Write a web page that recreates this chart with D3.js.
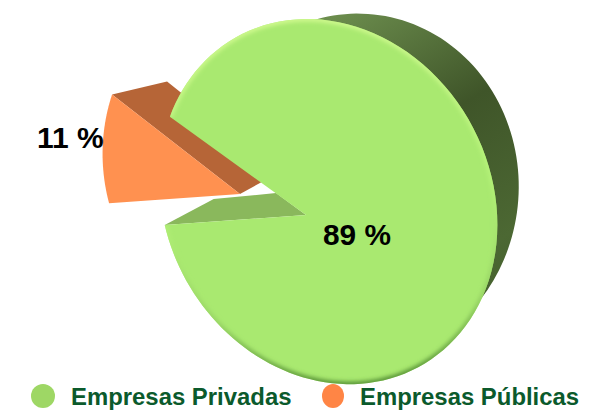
<!DOCTYPE html>
<html>
<head>
<meta charset="utf-8">
<script src="https://d3js.org/d3.v7.min.js"></script>
<style>
  html, body { margin: 0; padding: 0; background: #fff; }
  svg { display: block; }
  text { font-family: "Liberation Sans", Arial, sans-serif; font-weight: bold; }
</style>
</head>
<body>
<div id="chart-area"></div>
<script>
var categories = ["Empresas Privadas", "Empresas Públicas"];
var values = [89, 11];
var labels = ["89 %", "11 %"];
var faceColors = ["#a9e970", "#ff9150"];
var legendColors = ["#9ed765", "#ff8545"];

var width = 591,
    height = 412;

var svg = d3.select("#chart-area").append("svg")
    .attr("width", width)
    .attr("height", height);

var defs = svg.append("defs");

var wallGrad = defs.append("linearGradient").attr("id", "wall")
    .attr("gradientUnits", "userSpaceOnUse")
    .attr("x1", 320).attr("y1", 10).attr("x2", 520).attr("y2", 340);
wallGrad.append("stop").attr("offset", "0").attr("stop-color", "#6f9150");
wallGrad.append("stop").attr("offset", "0.4").attr("stop-color", "#3f5529");
wallGrad.append("stop").attr("offset", "0.75").attr("stop-color", "#4c6833");
wallGrad.append("stop").attr("offset", "1").attr("stop-color", "#3f5a28");

var rimGrad = defs.append("linearGradient").attr("id", "rim")
    .attr("gradientUnits", "userSpaceOnUse")
    .attr("x1", 300).attr("y1", 20).attr("x2", 340).attr("y2", 385);
rimGrad.append("stop").attr("offset", "0").attr("stop-color", "#d4fb92");
rimGrad.append("stop").attr("offset", "0.5").attr("stop-color", "#b4f278");
rimGrad.append("stop").attr("offset", "0.8").attr("stop-color", "#96d264");
rimGrad.append("stop").attr("offset", "1").attr("stop-color", "#4f8a30");

defs.append("filter").attr("id", "soft")
    .append("feGaussianBlur").attr("stdDeviation", 2);

// i) PIE ANGLES, green starts at upper edge of the notch
var pie = d3.pie().sort(null).startAngle(307 * Math.PI / 180).endAngle(667 * Math.PI / 180);
var slices = pie(values);

// ii) PROJECTION: unit disc to screen, apex stays fixed, rim is a perspective ellipse
function projector(o) {
  return function(angle, r) {
    var u = Math.sin(angle) * r,
        v = -Math.cos(angle) * r;
    var w = 1 + o.p * u + o.q * v;
    return [o.cx + o.s * (o.a * u + o.b * v) / w,
            o.cy + o.s * (o.c * u + o.d * v) / w];
  };
}

var front = projector({cx: 306, cy: 215, s: 172, a: 0.95, b: 0.15, c: -0.02, d: 1.045, p: -0.144, q: 0.07});
var explode = projector({cx: 240, cy: 194, s: 154, a: 0.95, b: 0.05, c: -0.02, d: 1.045, p: -0.104, q: 0.222});
var back = projector({cx: 338, cy: 206, s: 172, a: 0.93, b: 0, c: 0, d: 1, p: -0.11, q: 0.1});

var line = d3.line();

function sector(proj, start, end) {
  var pts = [proj(0, 0)];
  d3.range(0, 121).forEach(function(i) {
    pts.push(proj(start + (end - start) * i / 120, 1));
  });
  return line(pts) + "Z";
}

function rimPath(proj, start, end) {
  return line(d3.range(0, 121).map(function(i) {
    return proj(start + (end - start) * i / 120, 1);
  }));
}

function wall(a, b, c, d) {
  return line([a, b, c, d]) + "Z";
}

var green = slices[0],
    orange = slices[1];

// iii) ORANGE SLICE, pulled out to the left
var orangeUpper = explode(orange.endAngle, 1);
svg.append("path")
    .attr("d", wall(explode(0, 0), orangeUpper,
      [orangeUpper[0] + 55, orangeUpper[1] - 13],
      [explode(0, 0)[0] + 40, explode(0, 0)[1] - 22]))
    .attr("fill", "#b66537");

svg.append("path")
    .attr("d", sector(explode, orange.startAngle, orange.endAngle))
    .attr("fill", faceColors[1]);

// iv) GREEN BACK PART + NOTCH WALL
svg.append("path")
    .attr("d", sector(back, 320 * Math.PI / 180, 540 * Math.PI / 180))
    .attr("fill", "url(#wall)");

var greenLower = front(green.endAngle, 1);
svg.append("path")
    .attr("d", wall(front(0, 0), greenLower,
      [greenLower[0] + 49, greenLower[1] - 26],
      [front(0, 0)[0] - 30, front(0, 0)[1] - 22]))
    .attr("fill", "#8ab85c");

// v) GREEN FACE WITH SOFT RIM
var facePath = sector(front, green.startAngle, green.endAngle);

defs.append("clipPath").attr("id", "faceClip")
    .append("path").attr("d", facePath);

svg.append("path")
    .attr("d", facePath)
    .attr("fill", faceColors[0]);

svg.append("path")
    .attr("d", rimPath(front, green.startAngle, green.endAngle))
    .attr("fill", "none")
    .attr("stroke", "url(#rim)")
    .attr("stroke-width", 5)
    .attr("filter", "url(#soft)")
    .attr("clip-path", "url(#faceClip)");

// vi) VALUE LABELS
svg.append("text")
    .attr("x", 323).attr("y", 245)
    .attr("font-size", 29.8)
    .attr("fill", "#000")
    .text(labels[0]);

svg.append("text")
    .attr("x", 37).attr("y", 148)
    .attr("font-size", 30)
    .attr("fill", "#000")
    .text(labels[1]);

// vii) LEGEND
var legendX = d3.scaleOrdinal().domain(categories).range([43, 333]);

var legend = svg.selectAll(".legend")
    .data(categories)
    .enter()
    .append("g")
    .attr("class", "legend")
    .attr("transform", function(d) { return "translate(" + legendX(d) + ",396)"; });

legend.append("ellipse")
    .attr("rx", function(d, i) { return i == 0 ? 12 : 11; })
    .attr("ry", 12)
    .attr("fill", function(d, i) { return legendColors[i]; });

legend.append("text")
    .attr("x", function(d, i) { return i == 0 ? 28 : 27; })
    .attr("y", 9)
    .attr("font-size", 23.9)
    .attr("fill", "#0b5a2c")
    .text(function(d) { return d; });
</script>
</body>
</html>
